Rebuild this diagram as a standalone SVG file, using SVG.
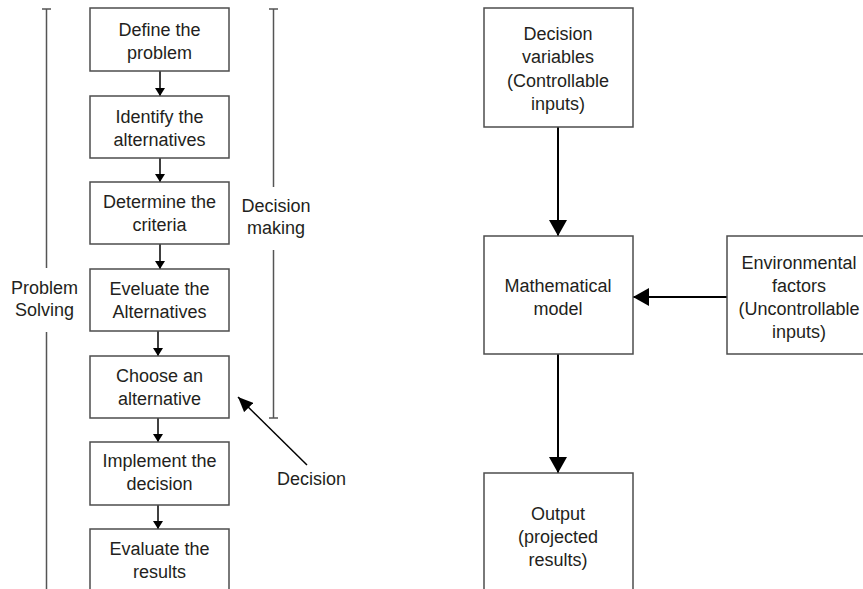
<svg xmlns="http://www.w3.org/2000/svg" width="863" height="589" viewBox="0 0 863 589">
<style>
  text { font-family: "Liberation Sans", Arial, sans-serif; font-size: 18px; fill: #231f20; text-anchor: middle; }
  .box { fill: #ffffff; stroke: #4d4d4d; stroke-width: 1.5; }
  .brk { stroke: #555555; stroke-width: 1.5; fill: none; }
  .conn { stroke: #000000; stroke-width: 1.5; fill: none; }
  .connL { stroke: #000000; stroke-width: 2; fill: none; }
</style>
<defs>
  <marker id="arrS" markerUnits="userSpaceOnUse" viewBox="0 0 8 10" markerWidth="8" markerHeight="10" refX="8" refY="5" orient="auto">
    <path d="M0,0 L8,5 L0,10 z" fill="#000"/>
  </marker>
  <marker id="arrL" markerUnits="userSpaceOnUse" viewBox="0 0 16 18" markerWidth="16" markerHeight="18" refX="16" refY="9" orient="auto">
    <path d="M0,0 L16,9 L0,18 z" fill="#000"/>
  </marker>
  <marker id="arrD" markerUnits="userSpaceOnUse" viewBox="0 0 15 13" markerWidth="15" markerHeight="13" refX="15" refY="6.5" orient="auto">
    <path d="M0,0 L15,6.5 L0,13 z" fill="#000"/>
  </marker>
</defs>

<g id="connectors">
  <line class="conn" x1="160" y1="71" x2="160" y2="96" marker-end="url(#arrS)"/>
  <line class="conn" x1="160" y1="158" x2="160" y2="182" marker-end="url(#arrS)"/>
  <line class="conn" x1="160" y1="244" x2="160" y2="269" marker-end="url(#arrS)"/>
  <line class="conn" x1="158" y1="331" x2="158" y2="356" marker-end="url(#arrS)"/>
  <line class="conn" x1="158" y1="418" x2="158" y2="442" marker-end="url(#arrS)"/>
  <line class="conn" x1="158" y1="505" x2="158" y2="529" marker-end="url(#arrS)"/>
  <line class="conn" x1="307" y1="465" x2="238" y2="397" marker-end="url(#arrD)"/>
  <line class="connL" x1="558" y1="127" x2="558" y2="236" marker-end="url(#arrL)"/>
  <line class="connL" x1="727" y1="297" x2="633" y2="297" marker-end="url(#arrL)"/>
  <line class="connL" x1="558" y1="354" x2="558" y2="473" marker-end="url(#arrL)"/>
</g>

<g id="bracket-problem-solving">
  <line class="brk" x1="42" y1="9" x2="51" y2="9"/>
  <line class="brk" x1="46.5" y1="9" x2="46.5" y2="268"/>
  <line class="brk" x1="46.5" y1="332" x2="46.5" y2="589"/>
  <text x="44.5" y="294">Problem</text>
  <text x="44.5" y="316">Solving</text>
</g>

<g id="bracket-decision-making">
  <line class="brk" x1="269" y1="9" x2="278" y2="9"/>
  <line class="brk" x1="273.5" y1="9" x2="273.5" y2="187"/>
  <line class="brk" x1="273.5" y1="250" x2="273.5" y2="418"/>
  <line class="brk" x1="269" y1="418" x2="278" y2="418"/>
  <text x="276" y="212">Decision</text>
  <text x="276" y="234">making</text>
</g>

<g id="label-decision">
  <text x="311.5" y="485">Decision</text>
</g>

<g id="n1">
  <rect class="box" x="90" y="8" width="139" height="63"/>
  <text x="159.5" y="36">Define the</text>
  <text x="159.5" y="59">problem</text>
</g>
<g id="n2">
  <rect class="box" x="90" y="96" width="139" height="62"/>
  <text x="159.5" y="123">Identify the</text>
  <text x="159.5" y="146">alternatives</text>
</g>
<g id="n3">
  <rect class="box" x="90" y="182" width="139" height="62"/>
  <text x="159.5" y="208">Determine the</text>
  <text x="159.5" y="231">criteria</text>
</g>
<g id="n4">
  <rect class="box" x="90" y="269" width="139" height="62"/>
  <text x="159.5" y="295">Eveluate the</text>
  <text x="159.5" y="318">Alternatives</text>
</g>
<g id="n5">
  <rect class="box" x="90" y="356" width="139" height="62"/>
  <text x="159.5" y="382">Choose an</text>
  <text x="159.5" y="405">alternative</text>
</g>
<g id="n6">
  <rect class="box" x="90" y="442" width="139" height="63"/>
  <text x="159.5" y="467">Implement the</text>
  <text x="159.5" y="490">decision</text>
</g>
<g id="n7">
  <rect class="box" x="90" y="529" width="139" height="80"/>
  <text x="159.5" y="555">Evaluate the</text>
  <text x="159.5" y="578">results</text>
</g>

<g id="decision-variables">
  <rect class="box" x="484" y="8" width="149" height="119"/>
  <text x="558" y="40">Decision</text>
  <text x="558" y="63">variables</text>
  <text x="558" y="86.5">(Controllable</text>
  <text x="558" y="110">inputs)</text>
</g>
<g id="mathematical-model">
  <rect class="box" x="484" y="236" width="149" height="118"/>
  <text x="558" y="292">Mathematical</text>
  <text x="558" y="315">model</text>
</g>
<g id="environmental-factors">
  <rect class="box" x="727" y="236" width="150" height="118"/>
  <text x="799" y="269">Environmental</text>
  <text x="799" y="292">factors</text>
  <text x="799" y="315">(Uncontrollable</text>
  <text x="799" y="338">inputs)</text>
</g>
<g id="output">
  <rect class="box" x="484" y="473" width="149" height="130"/>
  <text x="558" y="520">Output</text>
  <text x="558" y="543">(projected</text>
  <text x="558" y="566">results)</text>
</g>
</svg>
